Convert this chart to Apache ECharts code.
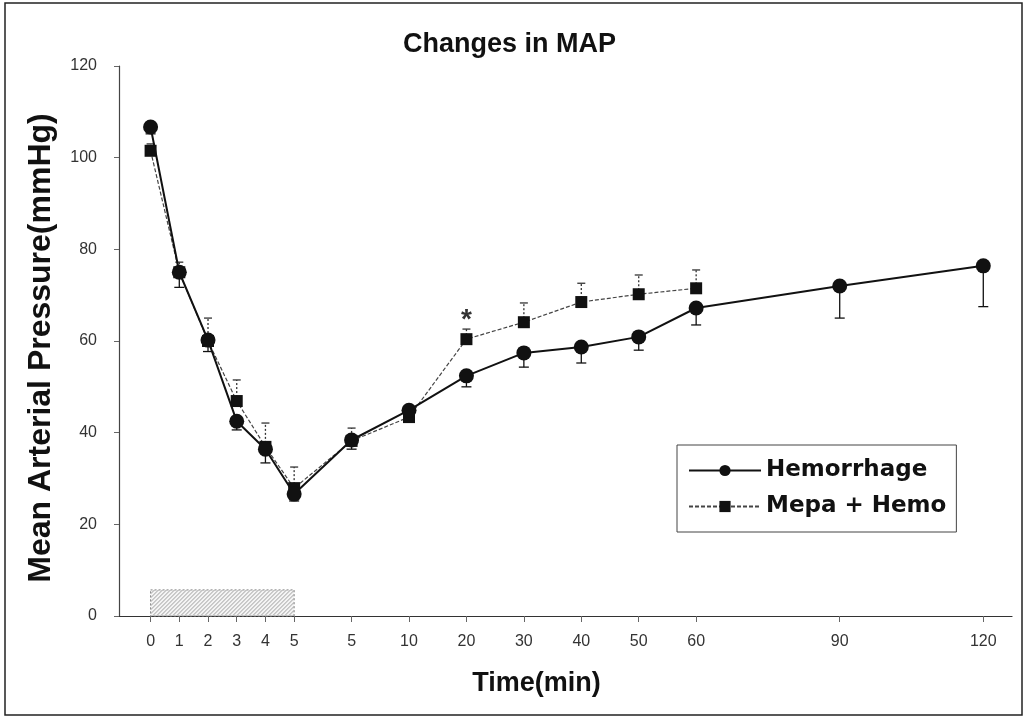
<!DOCTYPE html>
<html>
<head>
<meta charset="utf-8">
<script src="https://cdn.jsdelivr.net/npm/echarts@6/dist/echarts.min.js"></script>
<style>
html,body{margin:0;padding:0;background:#fff;}
#chart{width:1028px;height:718px;}
</style>
</head>
<body>
<div id="chart"></div>
<script>
// x positions on the (broken) time axis and their tick labels
const xPositions = [0, 1, 2, 3, 4, 5, 7, 9, 11, 13, 15, 17, 19, 24, 29];
const xTickLabels = ['0', '1', '2', '3', '4', '5', '5', '10', '20', '30', '40', '50', '60', '90', '120'];

// Hemorrhage group (mean, SE drawn downward)
const hemoMean = [106.7, 75, 60.2, 42.5, 36.4, 26.6, 38.4, 44.9, 52.4, 57.4, 58.7, 60.9, 67.2, 72.0, 76.4];
const hemoSE   = [1.5, 3.3, 2.5, 1.9, 3.0, 1.5, 2.0, 1.0, 2.4, 3.1, 3.5, 2.9, 3.7, 7.0, 8.9];

// Mepa + Hemo group (mean, SE drawn upward)
const mepaMean = [101.5, 75, 60, 46.9, 36.9, 27.9, 38.2, 43.4, 60.4, 64.1, 68.5, 70.2, 71.5];
const mepaSE   = [1.5, 2.2, 5.0, 4.6, 5.2, 4.6, 2.8, 1.2, 2.2, 4.2, 4.1, 4.2, 4.0];

// hemorrhage period bar (x from, x to, height)
const hemorrhagePeriod = [[0, 5, 5.7]];
// significance marker
const starMarks = [[11, 64.6]];

const hemoData = hemoMean.map((v, i) => [xPositions[i], v]);
const mepaData = mepaMean.map((v, i) => [xPositions[i], v]);
const hemoErr = hemoMean.map((v, i) => [xPositions[i], v, v - hemoSE[i]]);
const mepaErr = mepaMean.map((v, i) => [xPositions[i], v, v + mepaSE[i]]);

function errRender(color, dash, capW) {
  return function (params, api) {
    const x = api.value(0);
    const p1 = api.coord([x, api.value(1)]);
    const p2 = api.coord([x, api.value(2)]);
    const st = { stroke: color, lineWidth: 1.3, lineDash: dash };
    return {
      type: 'group',
      children: [
        { type: 'line', shape: { x1: p1[0], y1: p1[1], x2: p2[0], y2: p2[1] }, style: st },
        { type: 'line', shape: { x1: p2[0] - capW, y1: p2[1], x2: p2[0] + capW, y2: p2[1] }, style: { stroke: color, lineWidth: 1.3 } }
      ]
    };
  };
}

function hatchRender(params, api) {
  const a = api.coord([api.value(0), 0]);
  const b = api.coord([api.value(1), api.value(2)]);
  const x0 = a[0], x1 = b[0], yb = a[1], yt = b[1];
  const h = yb - yt;
  const children = [{
    type: 'rect', shape: { x: x0, y: yt, width: x1 - x0, height: h },
    style: { fill: '#f4f4f4', stroke: '#888', lineWidth: 1, lineDash: [2, 2] }
  }];
  for (let xs = x0 - h; xs < x1; xs += 4) {
    const t0 = Math.max(0, x0 - xs), t1 = Math.min(h, x1 - xs);
    if (t1 <= t0) continue;
    children.push({
      type: 'line',
      shape: { x1: xs + t0, y1: yb - t0, x2: xs + t1, y2: yb - t1 },
      style: { stroke: '#8a8a8a', lineWidth: 0.8 }
    });
  }
  return { type: 'group', children: children };
}

const chart = echarts.init(document.getElementById('chart'), null, { renderer: 'canvas' });
chart.setOption({
  backgroundColor: '#fff',
  animation: false,
  title: {
    text: 'Changes in MAP',
    left: 398, top: 26,
    textStyle: { fontFamily: 'Liberation Sans', fontSize: 27, fontWeight: 'bold', color: '#111' }
  },
  graphic: [
    { type: 'rect', shape: { x: 5, y: 3, width: 1017, height: 712 }, style: { fill: 'none', stroke: '#222', lineWidth: 1.5 }, z: 0 }
  ],
  legend: {
    orient: 'vertical',
    left: 677, top: 445,
    padding: [14, 10, 14, 11],
    itemGap: 13,
    itemWidth: 72, itemHeight: 14,
    borderColor: '#444', borderWidth: 1,
    backgroundColor: '#fff',
    textStyle: { fontFamily: 'DejaVu Sans', fontWeight: 'bold', fontSize: 23, color: '#111' },
    data: ['Hemorrhage', 'Mepa + Hemo']
  },
  grid: { left: 119, right: 16, top: 66, bottom: 102 },
  xAxis: {
    type: 'value',
    min: -1.1, max: 30,
    name: 'Time(min)',
    nameLocation: 'middle',
    nameGap: 54,
    nameTextStyle: { fontFamily: 'Liberation Sans', fontSize: 27, fontWeight: 'bold', color: '#111', padding: [0, 58, 0, 0] },
    axisLine: { onZero: false, lineStyle: { color: '#333', width: 1.2 } },
    axisTick: { show: true, length: 6, lineStyle: { color: '#666' }, customValues: xPositions },
    axisLabel: {
      customValues: xPositions,
      margin: 18,
      fontFamily: 'Liberation Sans', fontSize: 16, color: '#333',
      formatter: function (v) { const i = xPositions.indexOf(v); return i >= 0 ? xTickLabels[i] : ''; }
    },
    splitLine: { show: false }
  },
  yAxis: {
    type: 'value',
    min: 0, max: 120, interval: 20,
    name: 'Mean Arterial Pressure(mmHg)',
    nameLocation: 'middle',
    nameGap: 62,
    nameTextStyle: { fontFamily: 'Liberation Sans', fontSize: 32, fontWeight: 'bold', color: '#111', padding: [0, 14, 0, 0] },
    axisLine: { show: true, onZero: false, lineStyle: { color: '#444', width: 1.2 } },
    axisTick: { show: true, length: 5, lineStyle: { color: '#666' } },
    axisLabel: { margin: 22, fontFamily: 'Liberation Sans', fontSize: 16, color: '#333' },
    splitLine: { show: false }
  },
  series: [
    {
      type: 'custom', name: 'period', renderItem: hatchRender,
      data: hemorrhagePeriod, encode: { x: [0, 1], y: 2 }, z: 1, silent: true
    },
    {
      type: 'custom', name: 'hemoErr', renderItem: errRender('#111', null, 5),
      data: hemoErr, encode: { x: 0, y: [1, 2] }, z: 2, silent: true
    },
    {
      type: 'custom', name: 'mepaErr', renderItem: errRender('#333', [2, 2], 4),
      data: mepaErr, encode: { x: 0, y: [1, 2] }, z: 2, silent: true
    },
    {
      name: 'Hemorrhage', type: 'line', data: hemoData,
      symbol: 'circle', symbolSize: 15,
      lineStyle: { color: '#111', width: 2 },
      itemStyle: { color: '#111' }, z: 4
    },
    {
      name: 'Mepa + Hemo', type: 'line', data: mepaData,
      symbol: 'rect', symbolSize: 12,
      lineStyle: { color: '#444', width: 1.2, type: [4, 2] },
      itemStyle: { color: '#111' }, z: 3
    },
    {
      type: 'scatter', name: 'star', data: starMarks, symbolSize: 0, silent: true,
      label: { show: true, position: 'inside', formatter: '*', fontFamily: 'Liberation Sans', fontSize: 28, fontWeight: 'bold', color: '#000' }
    }
  ]
});
</script>
</body>
</html>
